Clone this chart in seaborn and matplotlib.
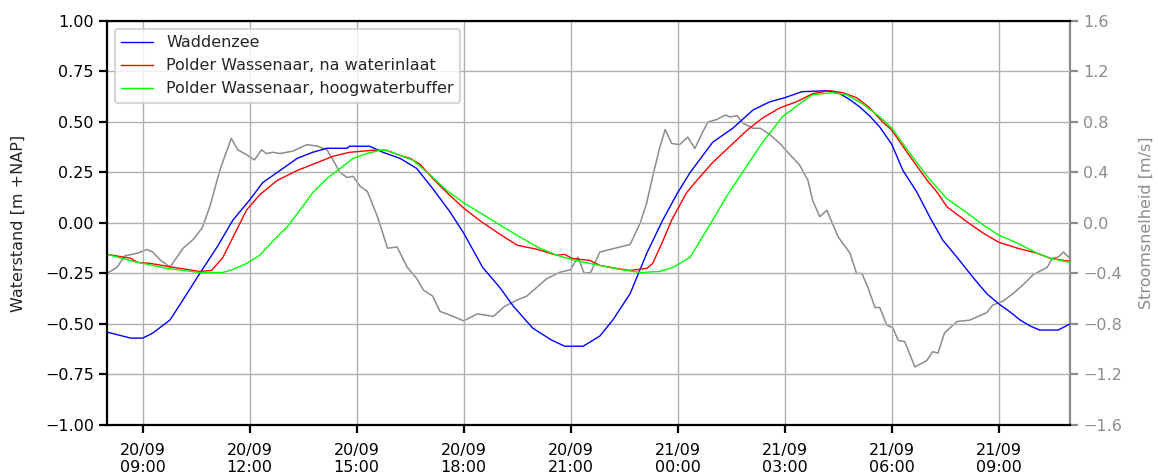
import matplotlib
matplotlib.use("Agg")
import matplotlib.pyplot as plt
import matplotlib.dates as mdates
import seaborn as sns
import pandas as pd

# Waterstand Waddenzee [m +NAP]
wadden_t = ["20 08:00", "20 08:40", "20 09:00", "20 09:17", "20 09:46", "20 10:08", "20 10:36",
            "20 11:05", "20 11:32", "20 12:00", "20 12:22", "20 12:51", "20 13:20", "20 13:46",
            "20 14:10", "20 14:44", "20 14:48", "20 15:22", "20 15:44", "20 16:13", "20 16:41",
            "20 17:08", "20 17:37", "20 18:00", "20 18:32", "20 19:01", "20 19:23", "20 19:56",
            "20 20:28", "20 20:50", "20 21:21", "20 21:49", "20 22:11", "20 22:40", "20 23:08",
            "20 23:35", "21 00:00", "21 00:21", "21 00:59", "21 01:33", "21 02:07", "21 02:35",
            "21 03:00", "21 03:29", "21 04:11", "21 04:33", "21 04:50", "21 05:06", "21 05:23",
            "21 05:40", "21 06:00", "21 06:19", "21 06:42", "21 07:04", "21 07:26", "21 07:50",
            "21 08:17", "21 08:40", "21 09:00", "21 09:19", "21 09:36", "21 09:53", "21 10:09",
            "21 10:40", "21 11:00"]
wadden_v = [-0.54, -0.57, -0.57, -0.545, -0.48, -0.38, -0.25,
            -0.12, 0.015, 0.114, 0.20, 0.26, 0.32, 0.35,
            0.37, 0.37, 0.38, 0.38, 0.35, 0.32, 0.27,
            0.17, 0.055, -0.05, -0.22, -0.32, -0.41, -0.52,
            -0.58, -0.61, -0.61, -0.56, -0.48, -0.35, -0.15,
            0.015, 0.15, 0.25, 0.40, 0.47, 0.56, 0.60,
            0.62, 0.65, 0.655, 0.64, 0.61, 0.575, 0.53,
            0.475, 0.39, 0.26, 0.155, 0.03, -0.085, -0.17,
            -0.27, -0.35, -0.40, -0.44, -0.48, -0.51, -0.53,
            -0.53, -0.50]

# Polder Wassenaar, na waterinlaat [m +NAP]
inlaat_t = ["20 08:00", "20 08:40", "20 08:51", "20 09:13", "20 09:52", "20 10:15", "20 10:36",
            "20 10:56", "20 11:15", "20 11:32", "20 11:55", "20 12:17", "20 12:46", "20 13:20",
            "20 13:46", "20 14:20", "20 14:48", "20 15:27", "20 15:50", "20 16:13", "20 16:30",
            "20 16:47", "20 17:08", "20 17:32", "20 18:00", "20 18:28", "20 18:58", "20 19:30",
            "20 20:03", "20 20:37", "20 20:50", "20 21:02", "20 21:15", "20 21:32", "20 21:49",
            "20 22:17", "20 22:40", "20 23:08", "20 23:18", "20 23:35", "20 23:50", "21 00:15",
            "21 00:32", "21 00:59", "21 01:28", "21 01:57", "21 02:23", "21 02:52", "21 03:20",
            "21 03:47", "21 04:16", "21 04:38", "21 05:01", "21 05:23", "21 05:45", "21 06:00",
            "21 06:27", "21 07:00", "21 07:17", "21 07:33", "21 08:07", "21 08:34", "21 09:00",
            "21 09:32", "21 10:05", "21 10:27", "21 11:00"]
inlaat_v = [-0.155, -0.175, -0.195, -0.20, -0.22, -0.23, -0.24,
            -0.235, -0.17, -0.07, 0.065, 0.14, 0.21, 0.26,
            0.29, 0.33, 0.35, 0.36, 0.36, 0.335, 0.32,
            0.29, 0.22, 0.15, 0.074, 0.01, -0.05, -0.11,
            -0.13, -0.16, -0.155, -0.175, -0.18, -0.185, -0.21,
            -0.225, -0.235, -0.225, -0.20, -0.09, 0.015, 0.15,
            0.21, 0.30, 0.38, 0.46, 0.52, 0.57, 0.60,
            0.64, 0.655, 0.645, 0.62, 0.57, 0.50, 0.46,
            0.345, 0.21, 0.15, 0.08, 0.005, -0.05, -0.095,
            -0.125, -0.15, -0.175, -0.19]

# Polder Wassenaar, hoogwaterbuffer [m +NAP]
buffer_t = ["20 08:00", "20 08:44", "20 09:41", "20 10:36", "20 11:15", "20 11:32", "20 11:55",
            "20 12:17", "20 12:39", "20 13:03", "20 13:25", "20 13:46", "20 14:10", "20 14:32",
            "20 14:54", "20 15:18", "20 15:40", "20 15:50", "20 16:13", "20 16:35", "20 16:59",
            "20 17:32", "20 18:00", "20 18:28", "20 19:01", "20 19:35", "20 20:08", "20 20:42",
            "20 21:15", "20 21:49", "20 22:23", "20 22:57", "20 23:30", "20 23:52", "21 00:21",
            "21 00:59", "21 01:22", "21 01:49", "21 02:23", "21 02:56", "21 03:25", "21 03:47",
            "21 04:21", "21 04:44", "21 05:11", "21 05:40", "21 06:00", "21 06:27", "21 07:00",
            "21 07:33", "21 08:07", "21 08:34", "21 09:00", "21 09:32", "21 10:05", "21 10:27",
            "21 11:00"]
buffer_v = [-0.155, -0.19, -0.225, -0.245, -0.245, -0.23, -0.20,
            -0.16, -0.09, -0.02, 0.065, 0.15, 0.22, 0.27,
            0.32, 0.345, 0.36, 0.36, 0.335, 0.31, 0.25,
            0.16, 0.10, 0.05, -0.01, -0.07, -0.125, -0.165,
            -0.19, -0.21, -0.23, -0.245, -0.24, -0.22, -0.17,
            0.015, 0.13, 0.25, 0.40, 0.525, 0.59, 0.635,
            0.645, 0.635, 0.59, 0.525, 0.47, 0.36, 0.23,
            0.12, 0.05, -0.01, -0.06, -0.10, -0.15, -0.175,
            -0.195]

# Stroomsnelheid [m/s]
stroom_t = ["20 08:00", "20 08:17", "20 08:30", "20 08:51", "20 09:07", "20 09:17", "20 09:29",
            "20 09:46", "20 10:08", "20 10:25", "20 10:40", "20 10:53", "20 11:10", "20 11:29",
            "20 11:40", "20 11:55", "20 12:08", "20 12:20", "20 12:28", "20 12:39", "20 12:51",
            "20 13:13", "20 13:36", "20 13:53", "20 14:10", "20 14:20", "20 14:32", "20 14:44",
            "20 14:54", "20 15:06", "20 15:18", "20 15:35", "20 15:52", "20 16:08", "20 16:25",
            "20 16:41", "20 16:52", "20 17:08", "20 17:20", "20 17:37", "20 18:00", "20 18:23",
            "20 18:50", "20 19:09", "20 19:30", "20 19:46", "20 20:20", "20 20:42", "20 21:00",
            "20 21:12", "20 21:23", "20 21:34", "20 21:49", "20 22:06", "20 22:23", "20 22:40",
            "20 22:57", "20 23:08", "20 23:18", "20 23:30", "20 23:39", "20 23:50", "21 00:03",
            "21 00:17", "21 00:29", "21 00:41", "21 00:51", "21 01:06", "21 01:20", "21 01:28",
            "21 01:40", "21 01:50", "21 02:07", "21 02:19", "21 02:35", "21 02:52", "21 03:09",
            "21 03:25", "21 03:39", "21 03:47", "21 03:59", "21 04:11", "21 04:30", "21 04:50",
            "21 05:01", "21 05:10", "21 05:20", "21 05:32", "21 05:40", "21 05:52", "21 06:02",
            "21 06:11", "21 06:22", "21 06:39", "21 06:59", "21 07:09", "21 07:18", "21 07:29",
            "21 07:50", "21 08:11", "21 08:40", "21 08:50", "21 09:07", "21 09:24", "21 09:41",
            "21 09:58", "21 10:22", "21 10:30", "21 10:40", "21 10:49", "21 11:00"]
stroom_v = [-0.40, -0.35, -0.26, -0.24, -0.21, -0.23, -0.29,
            -0.35, -0.20, -0.13, -0.04, 0.13, 0.42, 0.67,
            0.58, 0.54, 0.50, 0.58, 0.55, 0.56, 0.55,
            0.57, 0.62, 0.61, 0.58, 0.50, 0.40, 0.36,
            0.37, 0.29, 0.25, 0.05, -0.20, -0.19, -0.35,
            -0.44, -0.53, -0.58, -0.70, -0.73, -0.775, -0.72,
            -0.74, -0.66, -0.61, -0.58, -0.44, -0.39, -0.37,
            -0.27, -0.40, -0.39, -0.23, -0.21, -0.19, -0.17,
            0.0, 0.16, 0.37, 0.60, 0.74, 0.63, 0.62,
            0.68, 0.59, 0.71, 0.80, 0.82, 0.855, 0.84,
            0.85, 0.79, 0.75, 0.75, 0.70, 0.63, 0.54,
            0.46, 0.34, 0.18, 0.05, 0.10, -0.11, -0.24,
            -0.40, -0.40, -0.51, -0.67, -0.67, -0.81, -0.83,
            -0.93, -0.94, -1.14, -1.09, -1.02, -1.03, -0.87,
            -0.78, -0.77, -0.71, -0.65, -0.62, -0.56, -0.49,
            -0.41, -0.35, -0.28, -0.27, -0.23, -0.28]


def to_time(labels):
    return pd.to_datetime(["2021-09-" + s for s in labels], format="%Y-%m-%d %H:%M")


sns.set_style("white")
plt.rcParams["font.family"] = ["DejaVu Sans"]
plt.rcParams["font.size"] = 11.5

fig = plt.figure(figsize=(11.58, 4.75), dpi=100)
ax = fig.add_axes([0.0924, 0.1053, 0.8316, 0.8505])
ax2 = ax.twinx()

sns.lineplot(x=to_time(stroom_t), y=stroom_v, ax=ax2, color="#8c8c8c", lw=1.1)
sns.lineplot(x=to_time(wadden_t), y=wadden_v, ax=ax, color="blue", lw=1.0, label="Waddenzee")
sns.lineplot(x=to_time(inlaat_t), y=inlaat_v, ax=ax, color="red", lw=1.0,
             label="Polder Wassenaar, na waterinlaat")
sns.lineplot(x=to_time(buffer_t), y=buffer_v, ax=ax, color="lime", lw=1.0,
             label="Polder Wassenaar, hoogwaterbuffer")

ax.set_zorder(ax2.get_zorder() + 1)
ax.patch.set_visible(False)

ax.set_xlim(pd.Timestamp("2021-09-20 08:00"), pd.Timestamp("2021-09-21 11:00"))
ax.set_ylim(-1, 1)
ax2.set_ylim(-1.6, 1.6)
ax.set_yticks([-1, -0.75, -0.5, -0.25, 0, 0.25, 0.5, 0.75, 1])
ax.set_yticklabels(["\u22121.00", "\u22120.75", "\u22120.50", "\u22120.25", "0.00",
                    "0.25", "0.50", "0.75", "1.00"])
ax2.set_yticks([-1.6, -1.2, -0.8, -0.4, 0, 0.4, 0.8, 1.2, 1.6])
ax.xaxis.set_major_locator(mdates.HourLocator(byhour=[0, 3, 6, 9, 12, 15, 18, 21]))
ax.xaxis.set_major_formatter(mdates.DateFormatter("%d/%m\n%H:%M"))

ax.grid(True, color="#b0b0b0", lw=1.0)
ax.set_ylabel("Waterstand [m +NAP]", fontsize=11.5, labelpad=14)
ax.set_xlabel("")
ax2.set_ylabel("Stroomsnelheid [m/s]", color="#8c8c8c", fontsize=11.5, labelpad=12)

for side in ["left", "bottom", "top"]:
    ax.spines[side].set_linewidth(1.6)
    ax.spines[side].set_color("black")
ax.spines["right"].set_visible(False)
for side in ["left", "bottom", "top"]:
    ax2.spines[side].set_visible(False)
ax2.spines["right"].set_color("#8c8c8c")
ax2.spines["right"].set_linewidth(1.6)

ax.tick_params(axis="both", direction="out", length=6, width=1.6, labelsize=11.5,
               left=True, bottom=True, colors="black")
ax.tick_params(axis="x", pad=7)
ax2.tick_params(axis="y", direction="out", length=6, width=1.6, labelsize=11.5,
                colors="#8c8c8c", right=True)

leg = ax.legend(loc="upper left", fontsize=11.5, frameon=True, framealpha=0.8,
                edgecolor="#cccccc", fancybox=True, handlelength=2.0)
leg.get_frame().set_linewidth(1.5)

fig.savefig("out.png", dpi=100)
